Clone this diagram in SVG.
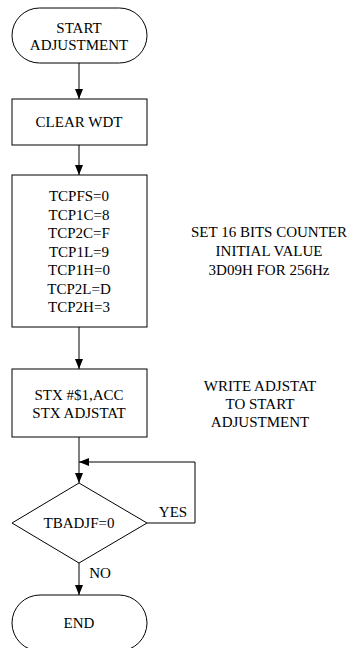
<svg xmlns="http://www.w3.org/2000/svg" width="349" height="648" viewBox="0 0 349 648">
<style>
.shape{fill:#fff;stroke:#000;stroke-width:1}
.line{fill:none;stroke:#000;stroke-width:1}
text{font-family:"Liberation Serif","Times New Roman",serif;font-size:15px;fill:#000;text-anchor:middle}
</style>
<defs>
<marker id="arr" viewBox="0 0 10 8" refX="10" refY="4" markerWidth="10" markerHeight="8" markerUnits="userSpaceOnUse" orient="auto">
<path d="M0,0 L10,4 L0,8 Z" fill="#000"/>
</marker>
</defs>
<rect width="349" height="648" fill="#fff"/>
<g id="connectors">
<line class="line" x1="79" y1="63" x2="79" y2="99" marker-end="url(#arr)"/>
<line class="line" x1="79" y1="145" x2="79" y2="175" marker-end="url(#arr)"/>
<line class="line" x1="79" y1="327" x2="79" y2="369" marker-end="url(#arr)"/>
<line class="line" x1="79" y1="437" x2="79" y2="483" marker-end="url(#arr)"/>
<polyline class="line" points="147,523 195,523 195,462 79,462" marker-end="url(#arr)"/>
<line class="line" x1="79" y1="563" x2="79" y2="595" marker-end="url(#arr)"/>
<text x="173" y="517">YES</text>
<text x="100" y="578">NO</text>
</g>
<g id="start">
<rect class="shape" x="12" y="8" width="135" height="55" rx="27.5" ry="27.5"/>
<text x="79" y="33">START</text>
<text x="79" y="50">ADJUSTMENT</text>
</g>
<g id="clearwdt">
<rect class="shape" x="12" y="99" width="135" height="46"/>
<text x="79" y="127">CLEAR WDT</text>
</g>
<g id="tcp">
<rect class="shape" x="12" y="175" width="135" height="152"/>
<text x="79" y="201">TCPFS=0</text>
<text x="79" y="219.5">TCP1C=8</text>
<text x="79" y="238">TCP2C=F</text>
<text x="79" y="256.5">TCP1L=9</text>
<text x="79" y="275">TCP1H=0</text>
<text x="79" y="293.5">TCP2L=D</text>
<text x="79" y="312">TCP2H=3</text>
</g>
<g id="note1">
<text x="269" y="237">SET 16 BITS COUNTER</text>
<text x="269" y="256">INITIAL VALUE</text>
<text x="269" y="275">3D09H FOR 256Hz</text>
</g>
<g id="stx">
<rect class="shape" x="12" y="369" width="135" height="68"/>
<text x="79" y="400">STX #$1,ACC</text>
<text x="79" y="418">STX ADJSTAT</text>
</g>
<g id="note2">
<text x="260" y="391">WRITE ADJSTAT</text>
<text x="260" y="409">TO START</text>
<text x="260" y="427">ADJUSTMENT</text>
</g>
<g id="decision">
<polygon class="shape" points="79,483 147,523 79,563 12,523"/>
<text x="79" y="528">TBADJF=0</text>
</g>
<g id="end">
<rect class="shape" x="12" y="595" width="135" height="56" rx="28" ry="28"/>
<text x="79" y="628">END</text>
</g>
</svg>
